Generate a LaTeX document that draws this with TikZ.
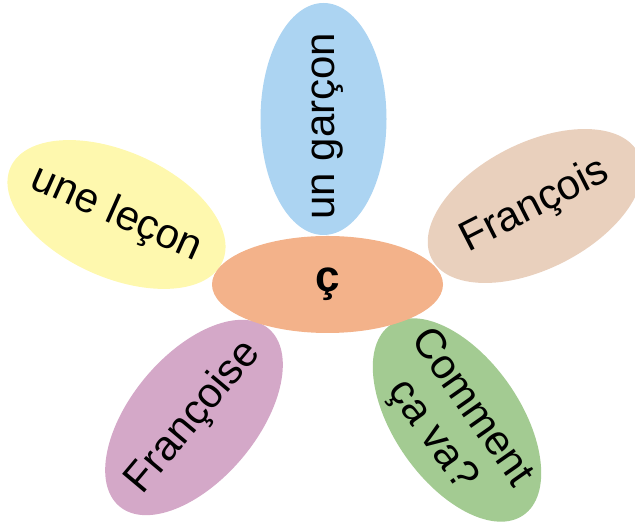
\documentclass[tikz,border=0pt]{standalone}
\usepackage{fontspec}
\setmainfont{Liberation Sans}
\usetikzlibrary{shapes.geometric}
\definecolor{cblue}{HTML}{ACD4F2}
\definecolor{corange}{HTML}{F3B28A}
\definecolor{cyellow}{HTML}{FEF8AE}
\definecolor{ctan}{HTML}{E9D0BD}
\definecolor{cpurple}{HTML}{D4A8C8}
\definecolor{cgreen}{HTML}{A3CB92}
\tikzset{
  petal/.style={ellipse, minimum width=232pt, minimum height=126pt, inner sep=0pt,
    draw=none},
  petaltext/.style={inner sep=0pt, align=center, font=\fontsize{42}{48}\selectfont},
  hub/.style={ellipse, minimum width=231pt, minimum height=97pt, inner sep=0pt,
    draw=none, fill=corange},
  hubtext/.style={inner sep=0pt, font=\fontsize{44}{48}\selectfont\bfseries}
}
\begin{document}
\begin{tikzpicture}[x=1pt,y=1pt]
\useasboundingbox (0,0) rectangle (635,524);
\node[petal, fill=cblue, rotate=90] (garcon) at (323.5,405) {};
\node[petaltext, rotate=90] (garcont) at ([xshift=4pt,yshift=-7pt]garcon.center) {un garçon};
\node[petal, fill=cyellow, rotate=-24] (lecon) at (116.5,309.5) {};
\node[petaltext, rotate=-24] (lecont) at (lecon.center) {une leçon};
\node[petal, fill=ctan, rotate=27] (francois) at (535,318) {};
\node[petaltext, rotate=27] (francoist) at (francois.center) {François};
\node[petal, fill=cpurple, rotate=50] (francoise) at (194,106.5) {};
\node[petaltext, rotate=50] (francoiset) at (francoise.center) {Françoise};
\node[petal, fill=cgreen, rotate=-55] (comment) at (457,104) {};
\node[petaltext, rotate=-55] (commentt) at ([xshift=-6pt,yshift=-2pt]comment.center) {Comment\\ça va?};
\node[hub] (center) at (327.5,239.5) {};
\node[hubtext] (centert) at (center.center) {ç};
\end{tikzpicture}
\end{document}
